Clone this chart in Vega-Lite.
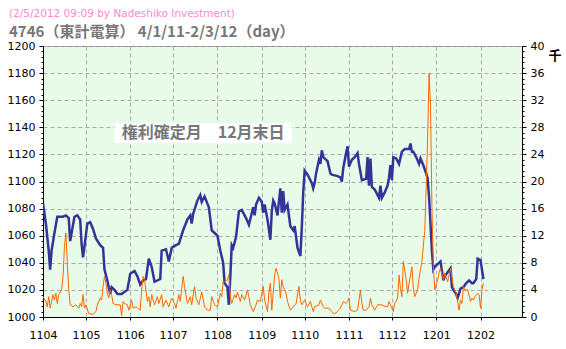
{
  "$schema": "https://vega.github.io/schema/vega-lite/v6.json",
  "width": 479,
  "height": 271,
  "autosize": {"type": "none"},
  "padding": {"left": 43, "top": 46, "right": 44, "bottom": 32},
  "background": "white",
  "title": {
    "text": "(2/5/2012 09:09 by Nadeshiko Investment)",
    "subtitle": "4746（東計電算） 4/1/11-2/3/12（day）",
    "anchor": "start",
    "frame": "group",
    "dx": -34,
    "offset": 0,
    "color": "#ff88cc",
    "font": "DejaVu Sans",
    "fontSize": 10.5,
    "fontWeight": "normal",
    "subtitleColor": "#777777",
    "subtitleFont": "Noto Sans CJK JP",
    "subtitleFontSize": 15,
    "subtitleFontWeight": "bold",
    "subtitlePadding": 6
  },
  "config": {
    "view": {"fill": "#e8fbe8", "stroke": "#888888", "strokeWidth": 1}
  },
  "datasets": {
    "price": [
      {"date": "2011-04-01", "price": 1084}, {"date": "2011-04-03", "price": 1069}, {"date": "2011-04-05", "price": 1049}, {"date": "2011-04-06", "price": 1035}, {"date": "2011-04-07", "price": 1049}, {"date": "2011-04-09", "price": 1062}, {"date": "2011-04-11", "price": 1074}, {"date": "2011-04-15", "price": 1074}, {"date": "2011-04-17", "price": 1075}, {"date": "2011-04-19", "price": 1073}, {"date": "2011-04-20", "price": 1056}, {"date": "2011-04-21", "price": 1062}, {"date": "2011-04-23", "price": 1074}, {"date": "2011-04-25", "price": 1075}, {"date": "2011-04-27", "price": 1072}, {"date": "2011-04-28", "price": 1054}, {"date": "2011-04-29", "price": 1044}, {"date": "2011-04-30", "price": 1052},
      {"date": "2011-05-02", "price": 1069}, {"date": "2011-05-04", "price": 1070}, {"date": "2011-05-06", "price": 1065}, {"date": "2011-05-08", "price": 1058}, {"date": "2011-05-11", "price": 1053}, {"date": "2011-05-13", "price": 1051}, {"date": "2011-05-14", "price": 1035}, {"date": "2011-05-16", "price": 1027}, {"date": "2011-05-18", "price": 1017}, {"date": "2011-05-19", "price": 1022}, {"date": "2011-05-21", "price": 1020}, {"date": "2011-05-23", "price": 1017}, {"date": "2011-05-26", "price": 1017}, {"date": "2011-05-30", "price": 1020},
      {"date": "2011-06-01", "price": 1032}, {"date": "2011-06-04", "price": 1034}, {"date": "2011-06-06", "price": 1030}, {"date": "2011-06-08", "price": 1024}, {"date": "2011-06-10", "price": 1027}, {"date": "2011-06-12", "price": 1028}, {"date": "2011-06-14", "price": 1043}, {"date": "2011-06-16", "price": 1037}, {"date": "2011-06-18", "price": 1026}, {"date": "2011-06-22", "price": 1028}, {"date": "2011-06-23", "price": 1049}, {"date": "2011-06-26", "price": 1050}, {"date": "2011-06-28", "price": 1041}, {"date": "2011-06-30", "price": 1051},
      {"date": "2011-07-03", "price": 1053}, {"date": "2011-07-05", "price": 1054}, {"date": "2011-07-08", "price": 1064}, {"date": "2011-07-11", "price": 1072}, {"date": "2011-07-13", "price": 1075}, {"date": "2011-07-14", "price": 1069}, {"date": "2011-07-15", "price": 1076}, {"date": "2011-07-18", "price": 1086}, {"date": "2011-07-20", "price": 1090}, {"date": "2011-07-21", "price": 1085}, {"date": "2011-07-23", "price": 1089}, {"date": "2011-07-26", "price": 1081}, {"date": "2011-07-28", "price": 1064}, {"date": "2011-07-30", "price": 1062},
      {"date": "2011-08-01", "price": 1060}, {"date": "2011-08-03", "price": 1049}, {"date": "2011-08-05", "price": 1040}, {"date": "2011-08-06", "price": 1025}, {"date": "2011-08-08", "price": 1022}, {"date": "2011-08-09", "price": 1009}, {"date": "2011-08-10", "price": 1030}, {"date": "2011-08-11", "price": 1053}, {"date": "2011-08-12", "price": 1051}, {"date": "2011-08-14", "price": 1059}, {"date": "2011-08-16", "price": 1078}, {"date": "2011-08-18", "price": 1079}, {"date": "2011-08-21", "price": 1073}, {"date": "2011-08-23", "price": 1068}, {"date": "2011-08-26", "price": 1081}, {"date": "2011-08-27", "price": 1075}, {"date": "2011-08-28", "price": 1083}, {"date": "2011-08-30", "price": 1088},
      {"date": "2011-09-01", "price": 1085}, {"date": "2011-09-02", "price": 1077}, {"date": "2011-09-03", "price": 1083}, {"date": "2011-09-05", "price": 1072}, {"date": "2011-09-07", "price": 1057}, {"date": "2011-09-08", "price": 1078}, {"date": "2011-09-09", "price": 1086}, {"date": "2011-09-10", "price": 1084}, {"date": "2011-09-12", "price": 1075}, {"date": "2011-09-14", "price": 1095}, {"date": "2011-09-15", "price": 1077}, {"date": "2011-09-16", "price": 1093}, {"date": "2011-09-17", "price": 1079}, {"date": "2011-09-19", "price": 1083}, {"date": "2011-09-21", "price": 1067}, {"date": "2011-09-23", "price": 1064}, {"date": "2011-09-24", "price": 1067}, {"date": "2011-09-26", "price": 1051}, {"date": "2011-09-28", "price": 1045}, {"date": "2011-09-29", "price": 1066}, {"date": "2011-09-30", "price": 1092},
      {"date": "2011-10-01", "price": 1108}, {"date": "2011-10-03", "price": 1105}, {"date": "2011-10-06", "price": 1099}, {"date": "2011-10-07", "price": 1095}, {"date": "2011-10-08", "price": 1099}, {"date": "2011-10-09", "price": 1106}, {"date": "2011-10-11", "price": 1116}, {"date": "2011-10-12", "price": 1113}, {"date": "2011-10-13", "price": 1123}, {"date": "2011-10-14", "price": 1118}, {"date": "2011-10-17", "price": 1115}, {"date": "2011-10-19", "price": 1106}, {"date": "2011-10-20", "price": 1105}, {"date": "2011-10-24", "price": 1104}, {"date": "2011-10-26", "price": 1103}, {"date": "2011-10-27", "price": 1100}, {"date": "2011-10-28", "price": 1110}, {"date": "2011-10-30", "price": 1121}, {"date": "2011-10-31", "price": 1126},
      {"date": "2011-11-01", "price": 1111}, {"date": "2011-11-03", "price": 1116}, {"date": "2011-11-05", "price": 1118}, {"date": "2011-11-07", "price": 1121}, {"date": "2011-11-08", "price": 1113}, {"date": "2011-11-10", "price": 1101}, {"date": "2011-11-13", "price": 1102}, {"date": "2011-11-14", "price": 1118}, {"date": "2011-11-15", "price": 1097}, {"date": "2011-11-16", "price": 1117}, {"date": "2011-11-17", "price": 1096}, {"date": "2011-11-19", "price": 1094}, {"date": "2011-11-21", "price": 1090}, {"date": "2011-11-22", "price": 1088}, {"date": "2011-11-23", "price": 1097}, {"date": "2011-11-24", "price": 1088}, {"date": "2011-11-26", "price": 1092}, {"date": "2011-11-28", "price": 1097}, {"date": "2011-11-29", "price": 1103}, {"date": "2011-11-30", "price": 1112},
      {"date": "2011-12-01", "price": 1101}, {"date": "2011-12-02", "price": 1118}, {"date": "2011-12-04", "price": 1117}, {"date": "2011-12-06", "price": 1113}, {"date": "2011-12-08", "price": 1122}, {"date": "2011-12-10", "price": 1124}, {"date": "2011-12-13", "price": 1124}, {"date": "2011-12-14", "price": 1128}, {"date": "2011-12-15", "price": 1122}, {"date": "2011-12-16", "price": 1122}, {"date": "2011-12-18", "price": 1118}, {"date": "2011-12-20", "price": 1113}, {"date": "2011-12-21", "price": 1117}, {"date": "2011-12-23", "price": 1112}, {"date": "2011-12-25", "price": 1106}, {"date": "2011-12-26", "price": 1102}, {"date": "2011-12-27", "price": 1089}, {"date": "2011-12-28", "price": 1069}, {"date": "2011-12-29", "price": 1049}, {"date": "2011-12-30", "price": 1035}, {"date": "2011-12-31", "price": 1037},
      {"date": "2012-01-02", "price": 1039}, {"date": "2012-01-04", "price": 1041}, {"date": "2012-01-06", "price": 1027}, {"date": "2012-01-07", "price": 1030}, {"date": "2012-01-09", "price": 1033}, {"date": "2012-01-11", "price": 1036}, {"date": "2012-01-12", "price": 1022}, {"date": "2012-01-13", "price": 1020}, {"date": "2012-01-15", "price": 1017}, {"date": "2012-01-16", "price": 1014}, {"date": "2012-01-18", "price": 1021}, {"date": "2012-01-20", "price": 1022}, {"date": "2012-01-22", "price": 1025}, {"date": "2012-01-24", "price": 1027}, {"date": "2012-01-26", "price": 1025}, {"date": "2012-01-27", "price": 1025}, {"date": "2012-01-29", "price": 1028}, {"date": "2012-01-30", "price": 1043},
      {"date": "2012-02-01", "price": 1042}, {"date": "2012-02-02", "price": 1035}, {"date": "2012-02-03", "price": 1028}
    ],
    "vol": [
      {"date": "2011-04-01", "vol": 3.0}, {"date": "2011-04-03", "vol": 2.3}, {"date": "2011-04-04", "vol": 1.5}, {"date": "2011-04-05", "vol": 3.0}, {"date": "2011-04-06", "vol": 1.3}, {"date": "2011-04-08", "vol": 3.3}, {"date": "2011-04-09", "vol": 2.5}, {"date": "2011-04-10", "vol": 3.5}, {"date": "2011-04-11", "vol": 2.0}, {"date": "2011-04-12", "vol": 3.3}, {"date": "2011-04-14", "vol": 4.0}, {"date": "2011-04-15", "vol": 6.0}, {"date": "2011-04-16", "vol": 10.4}, {"date": "2011-04-17", "vol": 12.4}, {"date": "2011-04-18", "vol": 7.9}, {"date": "2011-04-19", "vol": 4.0}, {"date": "2011-04-20", "vol": 1.8}, {"date": "2011-04-22", "vol": 1.5}, {"date": "2011-04-24", "vol": 1.8}, {"date": "2011-04-26", "vol": 1.3}, {"date": "2011-04-27", "vol": 2.0}, {"date": "2011-04-28", "vol": 1.5}, {"date": "2011-04-29", "vol": 3.3}, {"date": "2011-04-30", "vol": 1.3},
      {"date": "2011-05-01", "vol": 1.8}, {"date": "2011-05-03", "vol": 0.5}, {"date": "2011-05-06", "vol": 0.4}, {"date": "2011-05-08", "vol": 0.8}, {"date": "2011-05-09", "vol": 1.8}, {"date": "2011-05-11", "vol": 2.8}, {"date": "2011-05-12", "vol": 2.5}, {"date": "2011-05-13", "vol": 4.5}, {"date": "2011-05-14", "vol": 6.0}, {"date": "2011-05-15", "vol": 5.0}, {"date": "2011-05-16", "vol": 3.5}, {"date": "2011-05-17", "vol": 2.8}, {"date": "2011-05-18", "vol": 4.0}, {"date": "2011-05-19", "vol": 3.3}, {"date": "2011-05-20", "vol": 2.0}, {"date": "2011-05-22", "vol": 1.8}, {"date": "2011-05-25", "vol": 1.8}, {"date": "2011-05-26", "vol": 0.2}, {"date": "2011-05-27", "vol": 2.3}, {"date": "2011-05-28", "vol": 2.0}, {"date": "2011-05-30", "vol": 1.8}, {"date": "2011-05-31", "vol": 1.0},
      {"date": "2011-06-02", "vol": 2.5}, {"date": "2011-06-03", "vol": 1.3}, {"date": "2011-06-05", "vol": 1.5}, {"date": "2011-06-08", "vol": 1.0}, {"date": "2011-06-09", "vol": 4.0}, {"date": "2011-06-10", "vol": 6.0}, {"date": "2011-06-11", "vol": 5.5}, {"date": "2011-06-13", "vol": 2.3}, {"date": "2011-06-14", "vol": 3.0}, {"date": "2011-06-15", "vol": 1.5}, {"date": "2011-06-16", "vol": 3.3}, {"date": "2011-06-18", "vol": 1.8}, {"date": "2011-06-20", "vol": 3.0}, {"date": "2011-06-21", "vol": 2.0}, {"date": "2011-06-23", "vol": 3.3}, {"date": "2011-06-24", "vol": 1.5}, {"date": "2011-06-26", "vol": 2.5}, {"date": "2011-06-28", "vol": 1.5}, {"date": "2011-06-30", "vol": 2.8},
      {"date": "2011-07-02", "vol": 2.0}, {"date": "2011-07-03", "vol": 1.3}, {"date": "2011-07-05", "vol": 3.3}, {"date": "2011-07-06", "vol": 2.3}, {"date": "2011-07-08", "vol": 6.0}, {"date": "2011-07-09", "vol": 4.5}, {"date": "2011-07-11", "vol": 2.0}, {"date": "2011-07-13", "vol": 3.0}, {"date": "2011-07-14", "vol": 1.8}, {"date": "2011-07-16", "vol": 4.5}, {"date": "2011-07-17", "vol": 2.8}, {"date": "2011-07-19", "vol": 1.8}, {"date": "2011-07-21", "vol": 3.7}, {"date": "2011-07-23", "vol": 1.5}, {"date": "2011-07-25", "vol": 1.0}, {"date": "2011-07-27", "vol": 1.0}, {"date": "2011-07-28", "vol": 3.0}, {"date": "2011-07-30", "vol": 1.8},
      {"date": "2011-08-01", "vol": 1.5}, {"date": "2011-08-03", "vol": 3.5}, {"date": "2011-08-04", "vol": 3.0}, {"date": "2011-08-05", "vol": 5.2}, {"date": "2011-08-06", "vol": 5.2}, {"date": "2011-08-08", "vol": 5.5}, {"date": "2011-08-09", "vol": 6.2}, {"date": "2011-08-10", "vol": 3.0}, {"date": "2011-08-11", "vol": 2.0}, {"date": "2011-08-13", "vol": 3.3}, {"date": "2011-08-14", "vol": 2.8}, {"date": "2011-08-15", "vol": 3.7}, {"date": "2011-08-17", "vol": 2.3}, {"date": "2011-08-18", "vol": 3.3}, {"date": "2011-08-20", "vol": 2.5}, {"date": "2011-08-22", "vol": 4.0}, {"date": "2011-08-24", "vol": 1.8}, {"date": "2011-08-26", "vol": 0.8}, {"date": "2011-08-28", "vol": 1.8}, {"date": "2011-08-29", "vol": 2.5}, {"date": "2011-08-31", "vol": 2.3},
      {"date": "2011-09-02", "vol": 4.5}, {"date": "2011-09-03", "vol": 2.5}, {"date": "2011-09-05", "vol": 0.8}, {"date": "2011-09-06", "vol": 3.7}, {"date": "2011-09-07", "vol": 5.0}, {"date": "2011-09-08", "vol": 1.0}, {"date": "2011-09-10", "vol": 6.2}, {"date": "2011-09-11", "vol": 7.2}, {"date": "2011-09-13", "vol": 5.7}, {"date": "2011-09-14", "vol": 2.8}, {"date": "2011-09-15", "vol": 5.5}, {"date": "2011-09-16", "vol": 4.5}, {"date": "2011-09-18", "vol": 3.5}, {"date": "2011-09-19", "vol": 2.3}, {"date": "2011-09-21", "vol": 1.0}, {"date": "2011-09-23", "vol": 1.5}, {"date": "2011-09-25", "vol": 2.0}, {"date": "2011-09-27", "vol": 4.5}, {"date": "2011-09-28", "vol": 2.5}, {"date": "2011-09-29", "vol": 1.8},
      {"date": "2011-10-01", "vol": 2.5}, {"date": "2011-10-03", "vol": 1.5}, {"date": "2011-10-05", "vol": 2.3}, {"date": "2011-10-07", "vol": 0.8}, {"date": "2011-10-08", "vol": 1.5}, {"date": "2011-10-11", "vol": 1.8}, {"date": "2011-10-12", "vol": 2.5}, {"date": "2011-10-14", "vol": 1.5}, {"date": "2011-10-15", "vol": 1.3}, {"date": "2011-10-18", "vol": 1.3}, {"date": "2011-10-20", "vol": 0.8}, {"date": "2011-10-21", "vol": 0.5}, {"date": "2011-10-23", "vol": 0.6}, {"date": "2011-10-26", "vol": 1.3}, {"date": "2011-10-28", "vol": 2.3}, {"date": "2011-10-30", "vol": 2.0}, {"date": "2011-10-31", "vol": 2.3},
      {"date": "2011-11-01", "vol": 2.8}, {"date": "2011-11-02", "vol": 1.0}, {"date": "2011-11-05", "vol": 0.8}, {"date": "2011-11-07", "vol": 1.0}, {"date": "2011-11-09", "vol": 4.0}, {"date": "2011-11-10", "vol": 2.0}, {"date": "2011-11-11", "vol": 1.0}, {"date": "2011-11-13", "vol": 1.0}, {"date": "2011-11-15", "vol": 1.5}, {"date": "2011-11-16", "vol": 2.8}, {"date": "2011-11-17", "vol": 1.8}, {"date": "2011-11-19", "vol": 1.0}, {"date": "2011-11-21", "vol": 1.8}, {"date": "2011-11-24", "vol": 1.8}, {"date": "2011-11-26", "vol": 1.6}, {"date": "2011-11-28", "vol": 1.5}, {"date": "2011-11-29", "vol": 2.3}, {"date": "2011-11-30", "vol": 1.8},
      {"date": "2011-12-02", "vol": 0.8}, {"date": "2011-12-03", "vol": 2.0}, {"date": "2011-12-05", "vol": 2.8}, {"date": "2011-12-06", "vol": 6.2}, {"date": "2011-12-07", "vol": 4.2}, {"date": "2011-12-08", "vol": 3.0}, {"date": "2011-12-09", "vol": 8.2}, {"date": "2011-12-10", "vol": 6.9}, {"date": "2011-12-11", "vol": 5.5}, {"date": "2011-12-12", "vol": 3.5}, {"date": "2011-12-13", "vol": 5.0}, {"date": "2011-12-14", "vol": 6.2}, {"date": "2011-12-15", "vol": 7.4}, {"date": "2011-12-16", "vol": 4.2}, {"date": "2011-12-17", "vol": 3.0}, {"date": "2011-12-19", "vol": 4.0}, {"date": "2011-12-20", "vol": 5.7}, {"date": "2011-12-22", "vol": 8.2}, {"date": "2011-12-24", "vol": 12.8}, {"date": "2011-12-25", "vol": 19.2}, {"date": "2011-12-26", "vol": 26.6}, {"date": "2011-12-27", "vol": 36.0}, {"date": "2011-12-28", "vol": 31.3}, {"date": "2011-12-29", "vol": 16.3}, {"date": "2011-12-30", "vol": 7.4}, {"date": "2011-12-31", "vol": 4.0},
      {"date": "2012-01-02", "vol": 5.5}, {"date": "2012-01-03", "vol": 6.5}, {"date": "2012-01-04", "vol": 7.2}, {"date": "2012-01-06", "vol": 5.5}, {"date": "2012-01-07", "vol": 6.5}, {"date": "2012-01-09", "vol": 5.2}, {"date": "2012-01-11", "vol": 7.2}, {"date": "2012-01-13", "vol": 4.5}, {"date": "2012-01-15", "vol": 3.5}, {"date": "2012-01-17", "vol": 1.0}, {"date": "2012-01-18", "vol": 2.5}, {"date": "2012-01-19", "vol": 2.0}, {"date": "2012-01-20", "vol": 4.5}, {"date": "2012-01-21", "vol": 4.0}, {"date": "2012-01-23", "vol": 4.0}, {"date": "2012-01-25", "vol": 2.3}, {"date": "2012-01-26", "vol": 2.8}, {"date": "2012-01-27", "vol": 2.5}, {"date": "2012-01-28", "vol": 3.0}, {"date": "2012-01-30", "vol": 3.5}, {"date": "2012-01-31", "vol": 3.3},
      {"date": "2012-02-01", "vol": 1.3}, {"date": "2012-02-02", "vol": 4.0}, {"date": "2012-02-03", "vol": 5.0}
    ],
    "note": [
      {"start": "2011-05-21", "end": "2011-09-22", "top": 1143, "bottom": 1128.5, "mid": "2011-07-22", "center": 1135.8, "label": "権利確定月　12月末日"}
    ]
  },
  "layer": [
    {
      "layer": [
        {
          "data": {"name": "price"},
          "mark": {"type": "line", "color": "#333399", "strokeWidth": 2.5, "clip": true},
          "encoding": {
            "x": {
              "field": "date", "type": "temporal",
              "scale": {"type": "utc", "domain": [{"year": 2011, "month": 4, "date": 1, "utc": true}, {"year": 2012, "month": 3, "date": 1, "utc": true}]},
              "axis": {
                "title": null,
                "format": "%y%m",
                "values": [
                  {"year": 2011, "month": 4, "date": 1, "utc": true}, {"year": 2011, "month": 5, "date": 1, "utc": true}, {"year": 2011, "month": 6, "date": 1, "utc": true}, {"year": 2011, "month": 7, "date": 1, "utc": true}, {"year": 2011, "month": 8, "date": 1, "utc": true}, {"year": 2011, "month": 9, "date": 1, "utc": true}, {"year": 2011, "month": 10, "date": 1, "utc": true}, {"year": 2011, "month": 11, "date": 1, "utc": true}, {"year": 2011, "month": 12, "date": 1, "utc": true}, {"year": 2012, "month": 1, "date": 1, "utc": true}, {"year": 2012, "month": 2, "date": 1, "utc": true}
                ],
                "grid": true, "gridColor": "#aaaaaa", "gridDash": [4, 3],
                "tickSize": 3, "tickColor": "#000000", "domainColor": "#000000",
                "labelColor": "#000000", "labelFont": "DejaVu Sans", "labelFontSize": 11,
                "labelPadding": 9, "labelFlush": false, "labelOverlap": false
              }
            },
            "y": {
              "field": "price", "type": "quantitative",
              "scale": {"domain": [1000, 1200], "nice": false, "zero": false},
              "axis": {
                "orient": "left", "title": null, "format": "d",
                "values": [1000, 1020, 1040, 1060, 1080, 1100, 1120, 1140, 1160, 1180, 1200],
                "grid": true, "gridColor": "#aaaaaa", "gridDash": [4, 3],
                "tickSize": 4, "tickColor": "#000000", "domainColor": "#000000",
                "labelColor": "#000000", "labelFont": "DejaVu Sans", "labelFontSize": 11,
                "labelPadding": 4, "labelFlush": false, "labelOverlap": false
              }
            }
          }
        },
        {
          "data": {"name": "note"},
          "mark": {"type": "rect", "color": "#ffffff", "opacity": 1},
          "encoding": {
            "x": {"field": "start", "type": "temporal"},
            "x2": {"field": "end"},
            "y": {
              "field": "top", "type": "quantitative",
              "axis": {
                "orient": "left", "title": null, "labels": false, "grid": false, "domain": false,
                "values": [1004,1008,1012,1016,1024,1028,1032,1036,1044,1048,1052,1056,1064,1068,1072,1076,1084,1088,1092,1096,1104,1108,1112,1116,1124,1128,1132,1136,1144,1148,1152,1156,1164,1168,1172,1176,1184,1188,1192,1196],
                "tickSize": 2, "tickColor": "#000000"
              }
            },
            "y2": {"field": "bottom"}
          }
        },
        {
          "data": {"name": "note"},
          "mark": {"type": "text", "font": "Noto Sans CJK JP", "fontSize": 16, "fontWeight": "bold", "color": "#777777", "align": "center", "baseline": "middle"},
          "encoding": {
            "x": {"field": "mid", "type": "temporal"},
            "y": {"field": "center", "type": "quantitative", "axis": null},
            "text": {"field": "label"}
          }
        }
      ],
      "resolve": {"axis": {"y": "independent"}}
    },
    {
      "layer": [
        {
          "data": {"name": "vol"},
          "mark": {"type": "line", "color": "#ff6600", "strokeWidth": 1, "clip": true},
          "encoding": {
            "x": {"field": "date", "type": "temporal"},
            "y": {
              "field": "vol", "type": "quantitative",
              "scale": {"domain": [0, 40], "nice": false},
              "axis": {
                "orient": "right", "format": "d",
                "title": "千", "titleAngle": 0, "titleAnchor": "end", "titleAlign": "left", "titleBaseline": "top", "titleY": 3,
                "titleFont": "Noto Sans CJK JP", "titleFontSize": 13, "titleFontWeight": "bold", "titleColor": "#000000", "titlePadding": 4,
                "values": [0, 4, 8, 12, 16, 20, 24, 28, 32, 36, 40],
                "grid": false,
                "tickSize": 4, "tickColor": "#000000", "domainColor": "#000000",
                "labelColor": "#000000", "labelFont": "DejaVu Sans", "labelFontSize": 11,
                "labelPadding": 4, "labelFlush": false, "labelOverlap": false
              }
            }
          }
        },
        {
          "data": {"name": "vol"},
          "mark": {"type": "line", "strokeOpacity": 0},
          "encoding": {
            "x": {"field": "date", "type": "temporal"},
            "y": {
              "field": "vol", "type": "quantitative",
              "axis": {
                "orient": "right", "title": null, "labels": false, "grid": false, "domain": false,
                "values": [0.8,1.6,2.4,3.2,4.8,5.6,6.4,7.2,8.8,9.6,10.4,11.2,12.8,13.6,14.4,15.2,16.8,17.6,18.4,19.2,20.8,21.6,22.4,23.2,24.8,25.6,26.4,27.2,28.8,29.6,30.4,31.2,32.8,33.6,34.4,35.2,36.8,37.6,38.4,39.2],
                "tickSize": 2, "tickColor": "#000000"
              }
            }
          }
        }
      ],
      "resolve": {"axis": {"y": "independent"}}
    }
  ],
  "resolve": {"scale": {"y": "independent"}}
}
